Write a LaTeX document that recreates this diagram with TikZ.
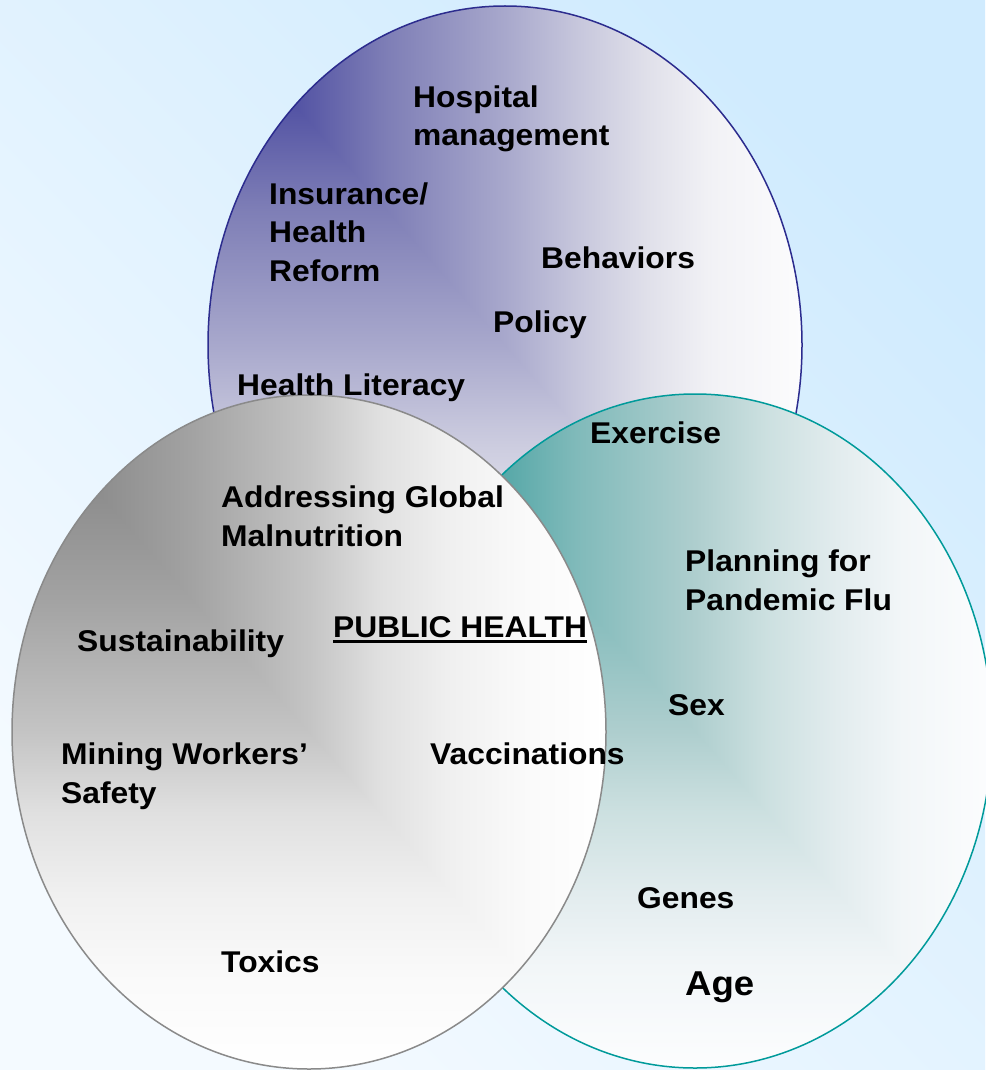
\documentclass[tikz,border=0pt]{standalone}
\usepackage{fontspec}
\setmainfont{Liberation Sans}[FakeStretch=1.06]
\definecolor{bgA}{HTML}{D0EBFE}
\definecolor{bgB}{HTML}{F4FAFF}
% purple ramp (corner -> far side)
\definecolor{pa}{HTML}{4A4A9E}\definecolor{pb}{HTML}{5454A4}\definecolor{pc}{HTML}{7E7EB6}
\definecolor{pd}{HTML}{A8A8CC}\definecolor{pe}{HTML}{C6C6DC}\definecolor{pf}{HTML}{E0E0EA}
\definecolor{pg}{HTML}{F2F2F6}\definecolor{ph}{HTML}{FCFCFD}
% teal ramp
\definecolor{ta}{HTML}{3A9696}\definecolor{tb}{HTML}{4EA4A4}\definecolor{tc}{HTML}{80BABA}
\definecolor{td}{HTML}{AECECE}\definecolor{te}{HTML}{CCE0E0}\definecolor{tf}{HTML}{E2ECEE}
\definecolor{tg}{HTML}{F2F6F8}\definecolor{th}{HTML}{FCFDFE}
% gray ramp
\definecolor{ga}{HTML}{888888}\definecolor{gb}{HTML}{8E8E8E}\definecolor{gc}{HTML}{A2A2A2}
\definecolor{gd}{HTML}{C4C4C4}\definecolor{ge}{HTML}{E0E0E0}\definecolor{gf}{HTML}{F0F0F0}
\definecolor{gg}{HTML}{F9F9F9}\definecolor{gh}{HTML}{FFFFFF}
\definecolor{navyline}{HTML}{2C2C8E}
\definecolor{tealline}{HTML}{009A9A}
\definecolor{grayline}{HTML}{8A8A8A}
\newcommand{\mkramp}[1]{%
\pgfdeclarehorizontalshading{#1-h}{100bp}{color(0bp)=(#1a); color(25bp)=(#1a); color(32.5bp)=(#1b); color(40bp)=(#1c); color(50bp)=(#1d); color(56bp)=(#1e); color(62bp)=(#1f); color(67.5bp)=(#1g); color(75bp)=(#1h); color(100bp)=(#1h)}%
\pgfdeclareverticalshading{#1-v}{100bp}{color(0bp)=(#1h); color(25bp)=(#1h); color(32.5bp)=(#1g); color(38bp)=(#1f); color(44bp)=(#1e); color(50bp)=(#1d); color(60bp)=(#1c); color(67.5bp)=(#1b); color(75bp)=(#1a); color(100bp)=(#1a)}}
\mkramp{p}\mkramp{t}\mkramp{g}
\newcommand{\phul}[1]{\setbox0=\hbox{#1}\dimen0=\wd0 \copy0\kern-\dimen0\rule[-6pt]{\dimen0}{2.6pt}}
% corner gradient ellipse: #1 ramp, #2 line colour, #3 cx, #4 cy, #5 rx, #6 ry
\newcommand{\cornerellipse}[6]{%
  \begin{scope}
    \clip (#3,#4) ellipse [x radius=#5pt, y radius=#6pt];
    \shade[shading=#1-v] (#3-#5,#4-#6) rectangle (#3+#5,#4+#6);
    \shade[shading=#1-h] (#3-#5,#4-#6) -- (#3+#5,#4-#6) -- (#3+#5,#4+#6) -- cycle;
  \end{scope}
  \draw[#2, line width=1.5pt] (#3,#4) ellipse [x radius=#5pt, y radius=#6pt];}
\tikzset{
  lbl/.style={anchor=base west, inner sep=0pt, align=left, font=\bfseries\fontsize{30}{38.5}\selectfont},
  biglbl/.style={anchor=base west, inner sep=0pt, font=\bfseries\fontsize{34.5}{40}\selectfont},
}
\begin{document}
\begin{tikzpicture}[x=1pt,y=-1pt]
\useasboundingbox (0,0) rectangle (985,1070);
\shade[bottom color=bgB, top color=bgA, shading angle=-45] (0,0) rectangle (985,1070);
\cornerellipse{p}{navyline}{505}{345}{297}{339}
\cornerellipse{t}{tealline}{695}{731}{297}{337}
\cornerellipse{g}{grayline}{309}{732}{297}{337}

\node[lbl] (hosp) at (413,146) {Hospital\\management};
\node[lbl] (ins) at (269,281) {Insurance/\\Health\\Reform};
\node[lbl] (beh) at (541,268) {Behaviors};
\node[lbl] (pol) at (493,332) {Policy};
\node[lbl] (lit) at (237,395) {Health Literacy};
\node[lbl] (exe) at (590,443) {Exercise};
\node[lbl] (agm) at (221,546) {Addressing Global\\Malnutrition};
\node[lbl] (pan) at (685,610) {Planning for\\Pandemic Flu};
\node[lbl] (ph) at (333,637) {\phul{PUBLIC HEALTH}};
\node[lbl] (sus) at (77,651) {Sustainability};
\node[lbl] (sex) at (668,715) {Sex};
\node[lbl] (min) at (61,803) {Mining Workers’\\Safety};
\node[lbl] (vac) at (430,764) {Vaccinations};
\node[lbl] (gen) at (637,908) {Genes};
\node[lbl] (tox) at (221,972) {Toxics};
\node[biglbl] (age) at (685,995) {Age};
\end{tikzpicture}
\end{document}
